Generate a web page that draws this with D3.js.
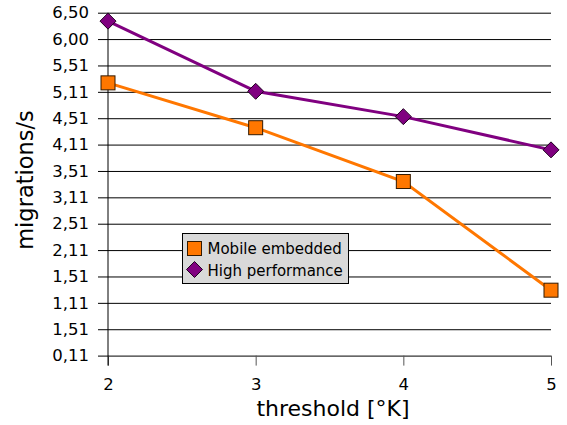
<!DOCTYPE html>
<html>
<head>
<meta charset="utf-8">
<script src="https://cdn.jsdelivr.net/npm/d3@7"></script>
<style>
  html, body { margin: 0; padding: 0; background: #fff; }
  svg { display: block; font-family: "DejaVu Sans", sans-serif; }
</style>
</head>
<body>
<svg id="chart" width="567" height="425"></svg>
<script>
// Threshold values on the x axis
const thresholds = [2, 3, 4, 5];
// Migration rates per platform
const mobileEmbedded = [5.17, 4.32, 3.30, 1.24];
const highPerformance = [6.34, 5.01, 4.53, 3.90];
// Y tick positions and their printed labels
const yTickValues = [0, 0.5, 1, 1.5, 2, 2.5, 3, 3.5, 4, 4.5, 5, 5.5, 6, 6.5];
const yTickLabels = ["0,11", "1,51", "1,11", "1,51", "2,11", "2,51", "3,11", "3,51",
                     "4,11", "4,51", "5,11", "5,51", "6,00", "6,50"];
const seriesNames = ["Mobile embedded", "High performance"];
const seriesColors = ["#ff7700", "#800080"];

const svg = d3.select("#chart");
const plotLeft = 108, plotRight = 551, plotTop = 12.7, plotBottom = 355.6;

const x = d3.scaleLinear().domain([2, 5]).range([plotLeft, plotRight]);
const y = d3.scaleLinear().domain([0, 6.5]).range([plotBottom, plotTop]);

// Horizontal grid lines with tick stubs on the left
const yAxis = d3.axisLeft(y)
  .tickValues(yTickValues)
  .tickFormat((d, i) => yTickLabels[i])
  .tickSize(10)
  .tickPadding(9);
const gy = svg.append("g").attr("transform", `translate(${plotLeft},0)`).call(yAxis);
gy.select(".domain").remove();
gy.selectAll(".tick line").attr("x1", -10).attr("x2", plotRight - plotLeft).attr("stroke", "#000");
gy.selectAll(".tick text").attr("font-size", 16.5).attr("fill", "#000")
  .attr("font-family", "DejaVu Sans, sans-serif");

// X axis
const xAxis = d3.axisBottom(x).tickValues(thresholds).tickFormat(d3.format("d"))
  .tickSize(10).tickPadding(13);
const gx = svg.append("g").attr("transform", `translate(0,${plotBottom})`).call(xAxis);
gx.select(".domain").remove();
gx.selectAll(".tick line").attr("stroke", "#555");
gx.selectAll(".tick text").attr("font-size", 16.5).attr("fill", "#000")
  .attr("font-family", "DejaVu Sans, sans-serif");

// Vertical axis line
svg.append("line").attr("x1", plotLeft).attr("x2", plotLeft)
  .attr("y1", plotTop).attr("y2", plotBottom + 10)
  .attr("stroke", "#000");

// Axis titles
svg.append("text").attr("x", 333).attr("y", 416)
  .attr("text-anchor", "middle").attr("font-size", 22).text("threshold [°K]");
svg.append("text").attr("transform", "translate(33,180) rotate(-90)")
  .attr("text-anchor", "middle").attr("font-size", 22.5).text("migrations/s");

const line = d3.line().x((d, i) => x(thresholds[i])).y(d => y(d));

// Mobile embedded: orange line with square markers
svg.append("path").datum(mobileEmbedded).attr("d", line)
  .attr("fill", "none").attr("stroke", seriesColors[0]).attr("stroke-width", 3);
svg.selectAll(".sq").data(mobileEmbedded).join("rect")
  .attr("x", (d, i) => x(thresholds[i]) - 7).attr("y", d => y(d) - 7)
  .attr("width", 14).attr("height", 14)
  .attr("fill", seriesColors[0]).attr("stroke", "#331a00").attr("stroke-width", 1);

// High performance: purple line with diamond markers
svg.append("path").datum(highPerformance).attr("d", line)
  .attr("fill", "none").attr("stroke", seriesColors[1]).attr("stroke-width", 3);
const diamond = "M0,-8L8,0L0,8L-8,0Z";
svg.selectAll(".dm").data(highPerformance).join("path")
  .attr("d", diamond)
  .attr("transform", (d, i) => `translate(${x(thresholds[i])},${y(d)})`)
  .attr("fill", seriesColors[1]).attr("stroke", "#200020").attr("stroke-width", 1);

// Legend
const lg = svg.append("g").attr("transform", "translate(182.5,233.5)");
lg.append("rect").attr("width", 166).attr("height", 50)
  .attr("fill", "#d9d9d9").attr("stroke", "#000").attr("stroke-width", 1);
lg.append("rect").attr("x", 5).attr("y", 8).attr("width", 14).attr("height", 14)
  .attr("fill", seriesColors[0]).attr("stroke", "#331a00");
lg.append("path").attr("d", diamond).attr("transform", "translate(12,36)")
  .attr("fill", seriesColors[1]).attr("stroke", "#200020");
lg.selectAll(".lt").data(seriesNames).join("text")
  .attr("x", 25).attr("y", (d, i) => 20.5 + i * 22)
  .attr("font-size", 15).attr("fill", "#000").text(d => d);
</script>
</body>
</html>
